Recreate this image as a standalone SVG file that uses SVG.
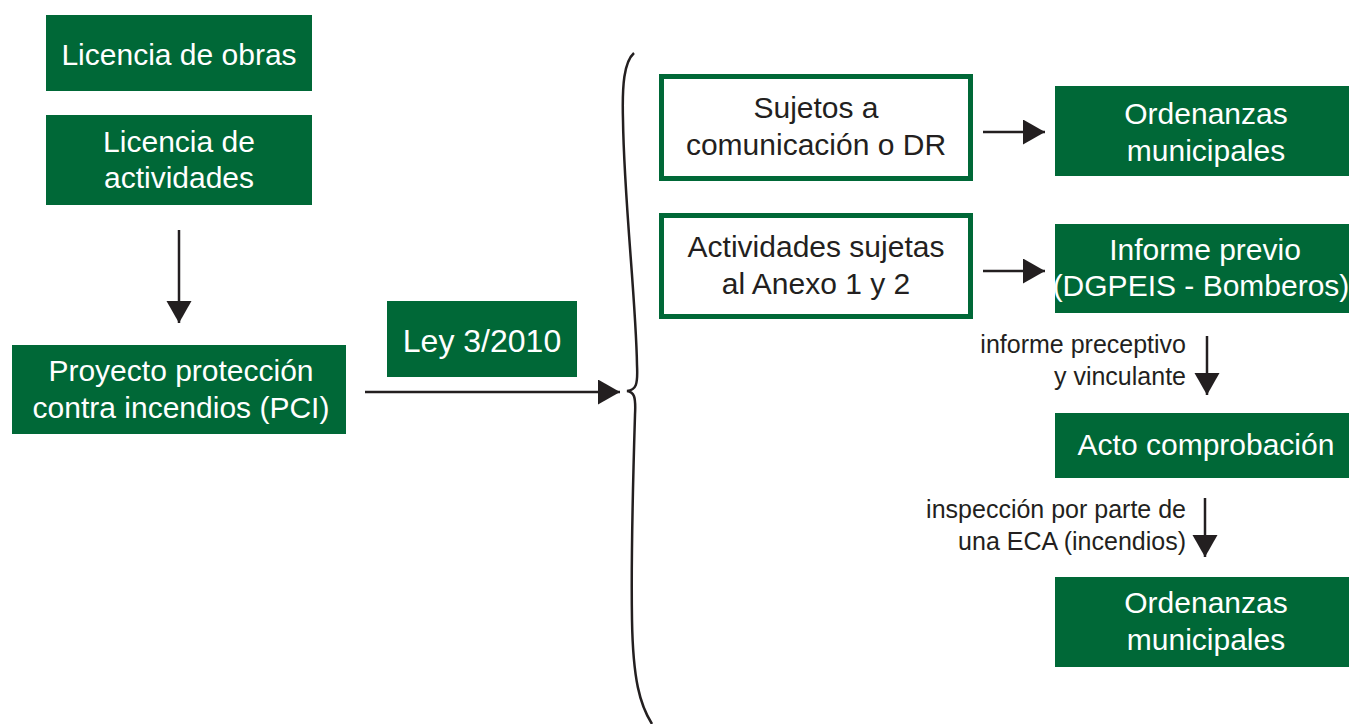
<svg xmlns="http://www.w3.org/2000/svg" width="1349" height="724" viewBox="0 0 1349 724">
<style>
.g{fill:#006837}
.o{fill:#ffffff;stroke:#006837;stroke-width:5}
.wt{font-family:"Liberation Sans",Arial,sans-serif;font-size:30px;fill:#ffffff;text-anchor:middle}
.dt{font-family:"Liberation Sans",Arial,sans-serif;font-size:30px;fill:#231f20;text-anchor:middle}
.lt{font-family:"Liberation Sans",Arial,sans-serif;font-size:25px;fill:#231f20;text-anchor:end}
.c{stroke:#231f20;stroke-width:2.5;fill:none}
</style>
<defs>
<marker id="ah" markerUnits="userSpaceOnUse" markerWidth="24" markerHeight="26" refX="22" refY="12.5" orient="auto" viewBox="0 0 24 26">
<path d="M0,0 L22,12.5 L0,25 Z" fill="#231f20"/>
</marker>
</defs>
<rect width="1349" height="724" fill="#ffffff"/>
<g id="n-licencia-obras">
<rect class="g" x="46" y="15" width="266" height="76"/>
<text class="wt" x="179" y="65">Licencia de obras</text>
</g>
<g id="n-licencia-actividades">
<rect class="g" x="46" y="115" width="266" height="90"/>
<text class="wt" x="179" y="152">Licencia de</text>
<text class="wt" x="179" y="188">actividades</text>
</g>
<g id="n-proyecto-pci">
<rect class="g" x="12" y="345" width="334" height="89"/>
<text class="wt" x="181" y="381">Proyecto protección</text>
<text class="wt" x="181" y="418">contra incendios (PCI)</text>
</g>
<g id="n-ley">
<rect class="g" x="387" y="301" width="190" height="76"/>
<text class="wt" x="482" y="352" style="font-size:32px">Ley 3/2010</text>
</g>
<g id="n-sujetos">
<rect class="o" x="661.5" y="76.5" width="309" height="102"/>
<text class="dt" x="816" y="118">Sujetos a</text>
<text class="dt" x="816" y="155">comunicación o DR</text>
</g>
<g id="n-actividades">
<rect class="o" x="661.5" y="215.5" width="309" height="101"/>
<text class="dt" x="816" y="257">Actividades sujetas</text>
<text class="dt" x="816" y="294">al Anexo 1 y 2</text>
</g>
<g id="n-ordenanzas-1">
<rect class="g" x="1055" y="86" width="294" height="90"/>
<text class="wt" x="1206" y="124">Ordenanzas</text>
<text class="wt" x="1206" y="161">municipales</text>
</g>
<g id="n-informe-previo">
<rect class="g" x="1055" y="224" width="294" height="89"/>
<text class="wt" x="1205" y="260">Informe previo</text>
<text class="wt" x="1201" y="296">(DGPEIS - Bomberos)</text>
</g>
<g id="n-acto">
<rect class="g" x="1055" y="413" width="294" height="65"/>
<text class="wt" x="1206" y="455">Acto comprobación</text>
</g>
<g id="n-ordenanzas-2">
<rect class="g" x="1055" y="577" width="294" height="90"/>
<text class="wt" x="1206" y="613">Ordenanzas</text>
<text class="wt" x="1206" y="650">municipales</text>
</g>
<g id="connectors">
<line class="c" x1="179" y1="230" x2="179" y2="323" marker-end="url(#ah)"/>
<line class="c" x1="365" y1="392" x2="620" y2="392" marker-end="url(#ah)"/>
<path class="c" d="M634 53 C624 62 622 85 623 120 C624 200 636 300 637 365 C638 385 636 390 627 391 C634 392 636 396 635 415 C633 480 631 560 632 620 C633 680 640 705 652 724"/>
<line class="c" x1="983" y1="132" x2="1045" y2="132" marker-end="url(#ah)"/>
<line class="c" x1="983" y1="271" x2="1045" y2="271" marker-end="url(#ah)"/>
<line class="c" x1="1207" y1="336" x2="1207" y2="395" marker-end="url(#ah)"/>
<line class="c" x1="1205" y1="498" x2="1205" y2="557" marker-end="url(#ah)"/>
<text class="lt" x="1186" y="353">informe preceptivo</text>
<text class="lt" x="1186" y="385">y vinculante</text>
<text class="lt" x="1186" y="518">inspección por parte de</text>
<text class="lt" x="1186" y="550">una ECA (incendios)</text>
</g>
</svg>
